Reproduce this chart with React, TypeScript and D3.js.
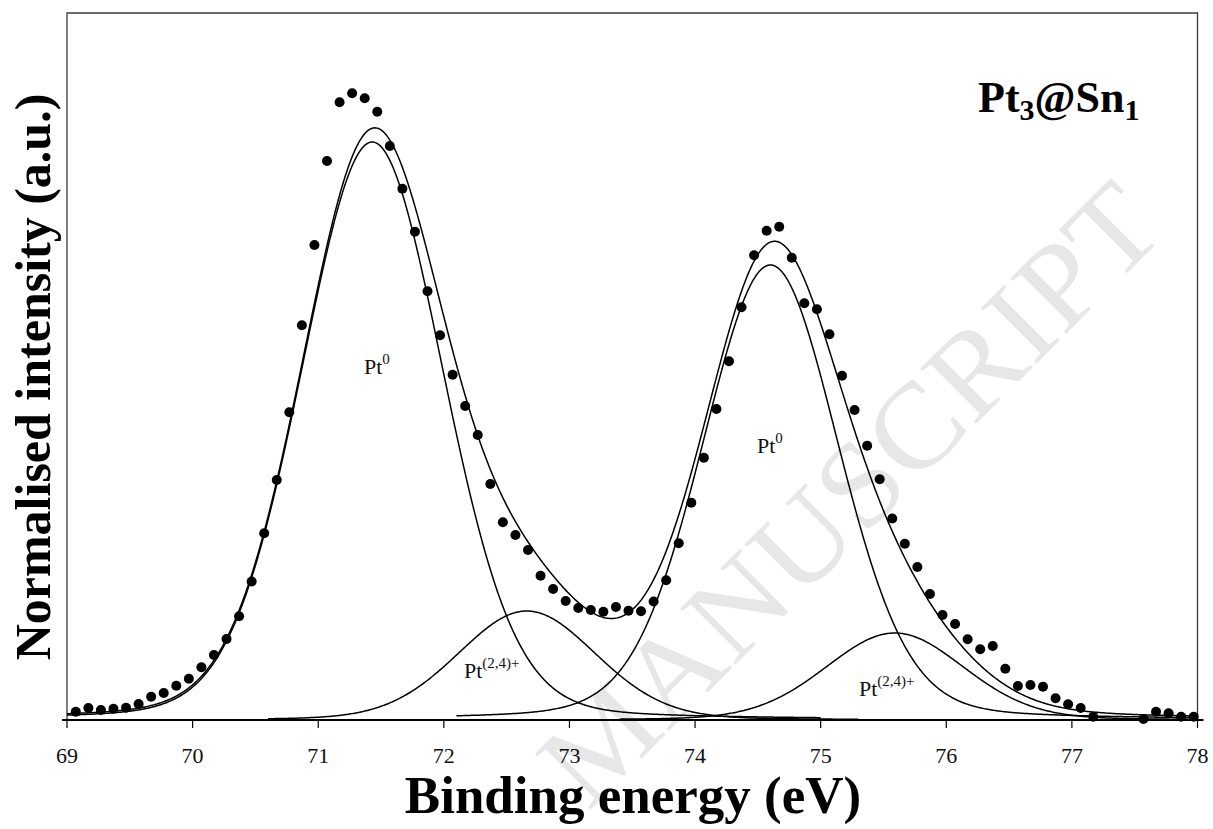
import React from 'react';
import * as d3 from 'd3';

// Measured XPS points (binding energy, eV) and normalised intensity (a.u.)
const energy = [
  69.07, 69.17, 69.27, 69.37, 69.47, 69.57, 69.67, 69.77, 69.87, 69.97,
  70.07, 70.17, 70.27, 70.37, 70.47, 70.57, 70.67, 70.77, 70.87, 70.97,
  71.07, 71.17, 71.27, 71.37, 71.47, 71.57, 71.67, 71.77, 71.87, 71.97,
  72.07, 72.17, 72.27, 72.37, 72.47, 72.57, 72.67, 72.77, 72.87, 72.97,
  73.07, 73.17, 73.27, 73.37, 73.47, 73.57, 73.67, 73.77, 73.87, 73.97,
  74.07, 74.17, 74.27, 74.37, 74.47, 74.57, 74.67, 74.77, 74.87, 74.97,
  75.07, 75.17, 75.27, 75.37, 75.47, 75.57, 75.67, 75.77, 75.87, 75.97,
  76.07, 76.17, 76.27, 76.37, 76.47, 76.57, 76.67, 76.77, 76.87, 76.97,
  77.07, 77.17, 77.57, 77.67, 77.77, 77.87, 77.97,
];
const intensity = [
  8.3, 12, 10, 11.3, 12.3, 16, 23.3, 27, 34.3, 41.3,
  52.7, 65, 81, 103.7, 138.5, 186.7, 240, 307.7, 394.7, 475,
  559, 617.7, 626.7, 621.7, 608.3, 574, 531.3, 488.3, 428.7, 384.7,
  345.3, 314, 285, 236, 197.7, 185, 170, 144.3, 131, 119,
  112, 110, 108.3, 113, 109.3, 108.7, 118.5, 139.8, 176.7, 217.3,
  262.3, 311, 358.7, 412.7, 464.7, 489.3, 493.3, 462.3, 416.7, 410.7,
  385.7, 344.3, 310, 274.3, 240.7, 201.5, 176.3, 153, 126, 105,
  96, 80.7, 70.7, 74, 51.3, 34, 35, 33.3, 21.7, 15.7,
  12, 3.3, 1, 8.3, 6.7, 3.3, 3.3,
];

// Fitted components (pseudo-Voigt peaks)
const peakCentre = [71.43, 72.66, 74.6, 75.59];
const peakHeight = [578, 109, 455, 87];
const peakFwhm = [1.33, 1.3, 1.28, 1.3];
const peakMix = [0.12, 0.12, 0.15, 0.12];
const peakFrom = [69.0, 70.6, 72.1, 73.4];
const peakTo = [75.0, 75.3, 78.0, 78.0];

const xTicks = [69, 70, 71, 72, 73, 74, 75, 76, 77, 78];
const xDomain = [69, 78];
const yDomain = [0, 707];

const W = 1213;
const H = 829;
const L = 67;
const R = 1197.5;
const T = 13;
const B = 720;

const serif = '"Liberation Serif", "Times New Roman", Times, serif';

function pv(e: number, i: number) {
  const d = e - peakCentre[i];
  const w = peakFwhm[i];
  const g = Math.exp((-4 * Math.LN2 * d * d) / (w * w));
  const l = 1 / (1 + (4 * d * d) / (w * w));
  return peakHeight[i] * ((1 - peakMix[i]) * g + peakMix[i] * l);
}

export default function App() {
  const x = d3.scaleLinear().domain(xDomain).range([L, R]);
  const y = d3.scaleLinear().domain(yDomain).range([B, T]);
  const line = d3
    .line<[number, number]>()
    .x((d) => x(d[0]))
    .y((d) => y(d[1]))
    .curve(d3.curveLinear);

  const comps = peakCentre.map((_, i) => {
    const es = d3.range(peakFrom[i], peakTo[i] + 1e-9, 0.01);
    return line(es.map((e) => [e, pv(e, i)] as [number, number]));
  });
  const envE = d3.range(xDomain[0], xDomain[1] + 1e-9, 0.01);
  const env = line(
    envE.map((e) => [e, d3.sum(peakCentre, (_, i) => pv(e, i))] as [number, number])
  );

  return (
    <svg
      width={W}
      height={H}
      style={{ position: 'absolute', left: 0, top: 0, background: '#fff' }}
      fontFamily={serif}
    >
      <rect x={0} y={0} width={W} height={H} fill="#fff" />
      {/* watermark */}
      <text
        transform="translate(878,522) rotate(-45)"
        textAnchor="middle"
        fontSize={120}
        fill="#e7e7e7"
        textLength={820}
        lengthAdjust="spacingAndGlyphs"
      >
        MANUSCRIPT
      </text>

      {/* frame */}
      <path
        d={`M${L},${B} V${T} H${R} V${B}`}
        fill="none"
        stroke="#3a3a3a"
        strokeWidth={1.3}
      />
      {/* x axis */}
      <line x1={L - 5} x2={R + 6} y1={B} y2={B} stroke="#000" strokeWidth={2.2} />
      {xTicks.map((t) => (
        <g key={t}>
          <line x1={x(t)} x2={x(t)} y1={B} y2={B + 8} stroke="#000" strokeWidth={1.2} />
          <text x={x(t)} y={B + 43} textAnchor="middle" fontSize={22} fill="#111">
            {t}
          </text>
        </g>
      ))}

      {/* fit curves */}
      {comps.map((d, i) => (
        <path key={i} d={d || ''} fill="none" stroke="#000" strokeWidth={1.5} />
      ))}
      <path d={env || ''} fill="none" stroke="#000" strokeWidth={1.5} />

      {/* data points */}
      {energy.map((e, i) => (
        <circle key={i} cx={x(e)} cy={y(intensity[i])} r={5} fill="#000" />
      ))}

      {/* labels */}
      <text x={364} y={374} fontSize={22} fill="#111">
        Pt<tspan dy={-10} fontSize={15}>0</tspan>
      </text>
      <text x={757} y={453} fontSize={22} fill="#111">
        Pt<tspan dy={-10} fontSize={15}>0</tspan>
      </text>
      <text x={464} y={678} fontSize={22} fill="#111">
        Pt<tspan dy={-10} fontSize={15}>(2,4)+</tspan>
      </text>
      <text x={859} y={696} fontSize={22} fill="#111">
        Pt<tspan dy={-10} fontSize={15}>(2,4)+</tspan>
      </text>

      <text x={978} y={112} fontSize={44} fontWeight="bold" fill="#000">
        Pt<tspan dy={8} fontSize={30}>3</tspan>
        <tspan dy={-8}>@Sn</tspan>
        <tspan dy={8} fontSize={30}>1</tspan>
      </text>

      {/* axis titles */}
      <text x={633} y={813} textAnchor="middle" fontSize={53} fontWeight="bold" fill="#000">
        Binding energy (eV)
      </text>
      <text
        transform="translate(50,377) rotate(-90)"
        textAnchor="middle"
        fontSize={50}
        fontWeight="bold"
        fill="#000"
      >
        Normalised intensity (a.u.)
      </text>
    </svg>
  );
}
